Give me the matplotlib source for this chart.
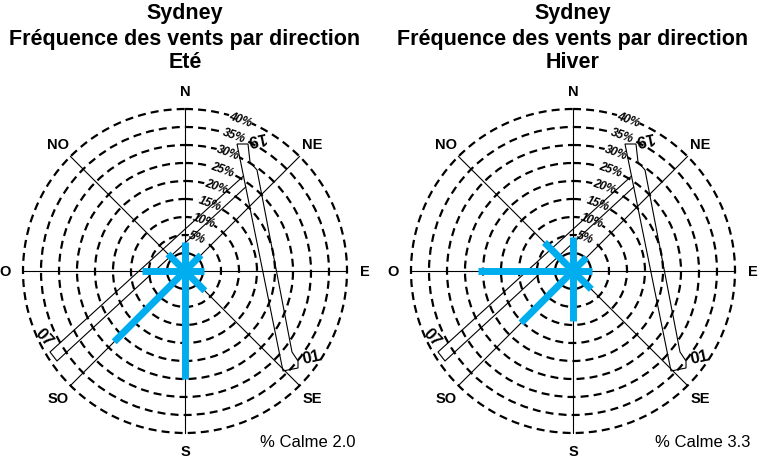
import numpy as np
import matplotlib.pyplot as plt
from matplotlib.patches import Circle, Polygon

plt.rcParams['font.family'] = ['Liberation Sans', 'DejaVu Sans']

W, H = 763, 464

# frequences (%) par direction
directions = ['N', 'NE', 'E', 'SE', 'S', 'SO', 'O', 'NO']
bearings = [0, 45, 90, 135, 180, 225, 270, 315]
freq_ete = [3.1, 1.3, 0.4, 2.8, 25.0, 22.8, 6.9, 1.7]
freq_hiver = [4.4, 0.3, 0.3, 2.2, 8.9, 15.4, 21.4, 6.2]
calme_ete = 2.0
calme_hiver = 3.3
anneaux = [5, 10, 15, 20, 25, 30, 35, 40]
saisons = ['Eté', 'Hiver']

# echelle radiale en pixels
R_CALME = 18
PX_PAR_PCT = 3.6
R_LABEL = 180
BLEU = '#00aeef'

# contour des pistes (decalages en px depuis le centre, y vers le bas)
piste_19 = [(52, -127), (63, -127), (65, -109), (72, -101), (107, 81),
            (113, 90), (113, 97), (98, 100)]
piste_07 = [(58.5, -95), (-135, 81), (-128, 90), (60.7, -84)]
etiquettes_pistes = [('19', (71, -134), 192), ('01', (126, 86), 12),
                     ('07', (-141, 66), -47.5)]


def rayon(p):
    return R_CALME + PX_PAR_PCT * p


def polaire(cx, cy, r, b):
    a = np.radians(b)
    return cx + r * np.sin(a), cy - r * np.cos(a)


def rose(ax, cx, cy, saison, freqs, calme, x_calme):
    # cercles de frequence
    for p in anneaux:
        ax.add_patch(Circle((cx, cy), rayon(p), fill=False, ec='black', lw=1.6,
                            ls=(0, (3.6, 2.3)), zorder=1))
    ax.add_patch(Circle((cx, cy), R_CALME, fill=False, ec='black', lw=1.6, zorder=1))

    # axes des directions
    for b in [0, 45, 90, 135]:
        x0, y0 = polaire(cx, cy, rayon(40), b)
        x1, y1 = polaire(cx, cy, rayon(40), b + 180)
        ax.plot([x0, x1], [y0, y1], color='black', lw=0.8, zorder=2)

    # etiquettes des anneaux
    for p in anneaux:
        x, y = polaire(cx, cy, rayon(p), 20)
        ax.text(x, y, f'{p}%', fontsize=8.5, style='italic', fontweight='bold',
                rotation=-20, ha='center', va='center', zorder=2.5,
                bbox=dict(fc='white', ec='none', pad=0.2))

    # pistes
    ax.add_patch(Polygon([(cx + dx, cy + dy) for dx, dy in piste_19], closed=True,
                         fill=False, ec='black', lw=0.8, zorder=3))
    ax.plot([cx + dx for dx, dy in piste_07], [cy + dy for dx, dy in piste_07],
            color='black', lw=0.8, zorder=3)
    for txt, (dx, dy), rot in etiquettes_pistes:
        ax.text(cx + dx, cy + dy, txt, fontsize=12, fontweight='bold', rotation=rot,
                ha='center', va='center', rotation_mode='anchor', zorder=3)

    # barres de frequence
    for b, f in zip(bearings, freqs):
        x, y = polaire(cx, cy, rayon(f), b)
        ax.plot([cx, x], [cy, y], color=BLEU, lw=5, solid_capstyle='butt', zorder=4)

    # points cardinaux
    for d, b in zip(directions, bearings):
        x, y = polaire(cx, cy, R_LABEL, b)
        ax.text(x, y, d, fontsize=10.5, fontweight='bold', ha='center', va='center')

    # titre
    for y, ligne in zip([14, 39, 63], ['Sydney', 'Fréquence des vents par direction', saison]):
        ax.text(cx, y, ligne, fontsize=15.5, fontweight='bold', ha='center', va='center')

    ax.text(x_calme, 443, f'% Calme {calme:.1f}', fontsize=12, ha='right', va='center')


fig = plt.figure(figsize=(W / 100, H / 100), dpi=100)
ax = fig.add_axes([0, 0, 1, 1])
ax.set_xlim(0, W)
ax.set_ylim(H, 0)
ax.axis('off')

rose(ax, 185, 272, saisons[0], freq_ete, calme_ete, 355)
rose(ax, 573, 272, saisons[1], freq_hiver, calme_hiver, 750)

fig.savefig('out.png', dpi=100)
